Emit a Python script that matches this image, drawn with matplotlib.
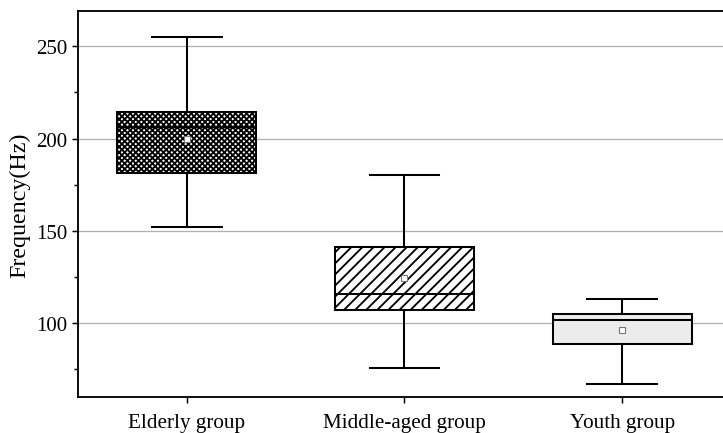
import matplotlib
matplotlib.use("Agg")
import matplotlib.pyplot as plt
from matplotlib.ticker import MultipleLocator

groups = ["Elderly group", "Middle-aged group", "Youth group"]
whislo = [152, 75.7, 67]
q1 = [181.2, 107, 88.5]
med = [206, 115.7, 101.8]
q3 = [214.3, 141.2, 105]
whishi = [255, 180.2, 113]
means = [200, 124.5, 96.4]

hatches = ["xxxxxxxx", "////", ""]
fills = ["white", "white", "#ececec"]

plt.rcParams["font.family"] = ["Liberation Serif", "DejaVu Serif"]
plt.rcParams["hatch.linewidth"] = 1.0

fig = plt.figure(figsize=(5.43, 3.255), dpi=133.333)
ax = fig.add_axes([0.1077, 0.083, 0.902, 0.889])

stats = []
for i, g in enumerate(groups):
    stats.append({"label": g, "whislo": whislo[i], "q1": q1[i], "med": med[i],
                  "q3": q3[i], "whishi": whishi[i], "mean": means[i], "fliers": []})

lw = 1.1
bp = ax.bxp(stats, positions=[1, 2, 3], widths=0.64, patch_artist=True,
            showmeans=True, showfliers=False,
            boxprops=dict(linewidth=lw, edgecolor="black"),
            medianprops=dict(color="black", linewidth=lw),
            whiskerprops=dict(color="black", linewidth=lw),
            capprops=dict(color="black", linewidth=lw),
            meanprops=dict(marker="s", markersize=3.5, markerfacecolor="white",
                           markeredgecolor="#777777", markeredgewidth=0.6),
            capwidths=0.32)
for box, h, f in zip(bp["boxes"], hatches, fills):
    box.set_facecolor(f)
    box.set_hatch(h)

ax.set_xlim(0.5, 3.5)
ax.set_ylim(60, 269)
ax.yaxis.set_major_locator(MultipleLocator(50))
ax.yaxis.set_minor_locator(MultipleLocator(25))
ax.set_axisbelow(True)
ax.grid(axis="y", which="major", color="#b0b0b0", linewidth=0.7)
ax.tick_params(axis="both", which="major", direction="out", length=3.3, width=0.8)
ax.tick_params(axis="y", which="major", labelsize=11.3, pad=2.5)
ax.tick_params(axis="x", which="major", labelsize=11.4, pad=5.5)
ax.tick_params(axis="y", which="minor", direction="out", length=2.2, width=0.8)
for s in ax.spines.values():
    s.set_linewidth(1.0)
ax.set_ylabel("Frequency(Hz)", fontsize=13, labelpad=3)

fig.savefig("out.png", dpi=133.333)
